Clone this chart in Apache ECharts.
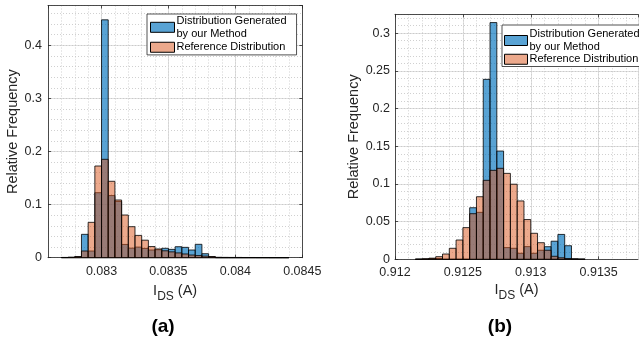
<!DOCTYPE html>
<html lang="en">
<head>
    <meta charset="utf-8">
    <title>Relative Frequency of I_DS</title>
    <script type="text/javascript" src="https://cdn.jsdelivr.net/npm/echarts@6.0.0/dist/echarts.min.js"></script>
    <style type="text/css">
        body {
            margin: 0;
            background-color: #FFFFFF;
        }

        .panel {
            position: absolute;
            top: 0;
            height: 341px;
        }
    </style>
</head>

<body>
<!-- left panel is a bit wider so its last x label can run under the right panel -->
<div id="main" class="panel" style="left:0;width:340px;z-index:1;"></div>
<div id="main1" class="panel" style="left:320px;width:319px;z-index:2;"></div>

<script type="text/javascript">
    // histogram bins are 0.00005 A wide
    var binWidth = 0.00005;

    // (a) left edge of the first bin, then one value per bin
    var startA = 0.0827;
    var genA = [0.0003, 0.0005, 0.002, 0.044, 0.0126, 0.1224, 0.448, 0.117, 0.106, 0.025,
        0.018, 0.020, 0.0175, 0.0145, 0.015, 0.0177, 0.0157, 0.0207, 0.0195, 0.0145,
        0.0252, 0.0075, 0.002, 0, 0, 0, 0, 0, 0, 0, 0, 0, 0, 0];
    var refA = [0.0005, 0.001, 0.002, 0.0126, 0.0666, 0.1727, 0.1853, 0.1439, 0.1087, 0.0804,
        0.0584, 0.042, 0.033, 0.021, 0.0165, 0.013, 0.011, 0.009, 0.007, 0.005,
        0.004, 0.003, 0.002, 0.0008, 0.0006, 0.0005, 0.0005, 0.0004, 0.0004, 0.0003, 0.0003, 0.0002, 0.0002, 0.0002];

    // (b)
    var startB = 0.91215;
    var genB = [0, 0.0003, 0.001, 0.001, 0, 0, 0, 0, 0.0684, 0.0623,
        0.2387, 0.314, 0.1436, 0.0155, 0.0146, 0.008, 0.0168, 0.008, 0.012, 0.0167,
        0.024, 0.033, 0.018, 0.0005, 0];
    var refB = [0.0003, 0.0007, 0.0015, 0.0035, 0.007, 0.0146, 0.0256, 0.042, 0.0605, 0.083,
        0.1048, 0.118, 0.1207, 0.114, 0.0996, 0.0774, 0.0527, 0.0345, 0.022, 0.012,
        0.004, 0.002, 0.001, 0.0005, 0.0003];

    // axis limits and tick steps
    var xRangeA = [0.0826, 0.0845];
    var yRangeA = [0, 0.475];
    var xRangeB = [0.912, 0.91379];
    var yRangeB = [0, 0.325];
    var xStep = 0.0005, xMinorStep = 0.0001;
    var yStepA = 0.1, yMinorStepA = 0.02;
    var yStepB = 0.05, yMinorStepB = 0.01;

    var nameGen = 'Distribution Generated\nby our Method';
    var nameRef = 'Reference Distribution';
    var colorGen = 'rgba(0,114,189,0.65)';
    var colorRef = 'rgba(217,83,25,0.5)';
    var axisColor = '#262626';
    var fontFamily = 'Liberation Sans, Arial, sans-serif';

    function histData(start, values) {
        var out = [];
        for (var i = 0; i < values.length; i++) {
            var x0 = start + i * binWidth;
            out.push([x0, x0 + binWidth, values[i]]);
        }
        return out;
    }

    function histItem(fill) {
        return function (params, api) {
            var p0 = api.coord([api.value(0), api.value(2)]);
            var p1 = api.coord([api.value(1), 0]);
            return {
                type: 'rect',
                shape: {x: p0[0], y: p0[1], width: p1[0] - p0[0], height: p1[1] - p0[1]},
                style: {fill: fill, stroke: '#000', lineWidth: 0.8}
            };
        };
    }

    function frameAxis(pos, range, extra) {
        var a = {
            type: 'value',
            position: pos,
            min: range[0],
            max: range[1],
            axisLine: {show: true, onZero: false, lineStyle: {color: axisColor, width: 0.8}},
            axisTick: {show: true, inside: true, length: 3, lineStyle: {color: axisColor, width: 0.8}},
            axisLabel: {show: false},
            splitLine: {show: false}
        };
        for (var k in extra) a[k] = extra[k];
        return a;
    }

    function minorAxis(range, step) {
        return {
            type: 'value',
            min: range[0],
            max: range[1],
            interval: step,
            axisLine: {show: false, onZero: false},
            axisTick: {show: false},
            axisLabel: {show: false},
            splitLine: {show: true, lineStyle: {color: '#c4c4c4', width: 0.8, type: [1, 2]}}
        };
    }

    function makeOption(c) {
        var xNice = {splitNumber: 4, minInterval: xStep, maxInterval: xStep};
        var xMain = frameAxis('bottom', c.xRange, xNice);
        xMain.axisLabel = {
            show: true, margin: 7, color: axisColor, fontSize: 12.5,
            fontFamily: fontFamily, showMinLabel: c.showMinX, showMaxLabel: c.showMaxX
        };
        xMain.splitLine = {show: true, lineStyle: {color: '#e0e0e0', width: 1}};
        xMain.name = 'I{s|DS} (A)';
        xMain.nameLocation = 'middle';
        xMain.nameGap = c.xNameGap;
        xMain.nameMoveOverlap = false;
        xMain.nameTextStyle = {
            color: axisColor, fontSize: 14.5, fontFamily: fontFamily,
            rich: {s: {fontSize: 12, fontFamily: fontFamily, color: axisColor, padding: [11, 0, 0, 0]}}
        };

        var yMain = frameAxis('left', c.yRange, {interval: c.yStep});
        yMain.axisLabel = {
            show: true, margin: c.yLabelMargin, color: axisColor, fontSize: 12.5,
            fontFamily: fontFamily, showMaxLabel: false
        };
        yMain.splitLine = {show: true, lineStyle: {color: '#e0e0e0', width: 1}};
        yMain.name = 'Relative Frequency';
        yMain.nameLocation = 'middle';
        yMain.nameGap = c.yNameGap;
        yMain.nameMoveOverlap = false;
        yMain.nameTextStyle = {color: axisColor, fontSize: 14.5, fontFamily: fontFamily};

        var yRight = frameAxis('right', c.yRange, {interval: c.yStep});
        if (!c.rightFrame) {
            yRight.axisLine.show = false;
            yRight.axisTick.show = false;
        }

        return {
            animation: false,
            grid: {
                left: c.grid[0], top: c.grid[1], width: c.grid[2], height: c.grid[3],
                outerBoundsMode: 'none'
            },
            legend: {
                orient: 'vertical',
                left: c.legend[0],
                top: c.legend[1],
                padding: c.legendPad,
                itemWidth: c.iconWidth,
                itemHeight: 10,
                itemGap: 0,
                icon: 'rect',
                selectedMode: false,
                backgroundColor: '#FFFFFF',
                borderColor: axisColor,
                borderWidth: 0.8,
                textStyle: {
                    color: '#000', fontSize: 11, fontFamily: fontFamily,
                    lineHeight: c.legendLine, padding: [0, 0, 0, -3]
                },
                data: [
                    {name: nameGen, itemStyle: {color: colorGen, borderColor: '#000', borderWidth: 1}},
                    {name: nameRef, itemStyle: {color: colorRef, borderColor: '#000', borderWidth: 1}}
                ]
            },
            xAxis: [xMain, frameAxis('top', c.xRange, xNice), minorAxis(c.xRange, xMinorStep)],
            yAxis: [yMain, yRight, minorAxis(c.yRange, c.yMinor)],
            graphic: [{
                type: 'text',
                x: c.caption[0],
                y: c.caption[1],
                style: {
                    text: c.captionText, fill: '#000', align: 'center', verticalAlign: 'middle',
                    font: 'bold 19px ' + fontFamily
                }
            }],
            series: [{
                type: 'custom',
                name: nameGen,
                renderItem: histItem(colorGen),
                itemStyle: {color: colorGen},
                encode: {x: [0, 1], y: 2},
                data: histData(c.start, c.gen)
            }, {
                type: 'custom',
                name: nameRef,
                renderItem: histItem(colorRef),
                itemStyle: {color: colorRef},
                encode: {x: [0, 1], y: 2},
                data: histData(c.start, c.ref)
            }]
        };
    }

    var myChart = echarts.init(document.getElementById('main'));
    var myChart1 = echarts.init(document.getElementById('main1'));

    myChart.setOption(makeOption({
        start: startA, gen: genA, ref: refA,
        xRange: xRangeA, yRange: yRangeA, yStep: yStepA, yMinor: yMinorStepA,
        grid: [48, 5.5, 254.3, 252.2],
        showMinX: false, showMaxX: true,
        xNameGap: 22, yNameGap: 28, yLabelMargin: 6,
        rightFrame: true,
        legend: [147, 14], legendPad: [0, 10, 1, 3], legendLine: 13.3, iconWidth: 24,
        caption: [163, 327], captionText: '(a)'
    }));

    myChart1.setOption(makeOption({
        start: startB, gen: genB, ref: refB,
        xRange: xRangeB, yRange: yRangeB, yStep: yStepB, yMinor: yMinorStepB,
        grid: [75, 14.3, 243, 245],
        showMinX: true, showMaxX: false,
        xNameGap: 19, yNameGap: 34, yLabelMargin: 5,
        rightFrame: false,
        legend: [182, 25], legendPad: [3, 1, 1, 2], legendLine: 12.5, iconWidth: 23,
        caption: [180, 327], captionText: '(b)'
    }));
</script>

</body>
</html>
